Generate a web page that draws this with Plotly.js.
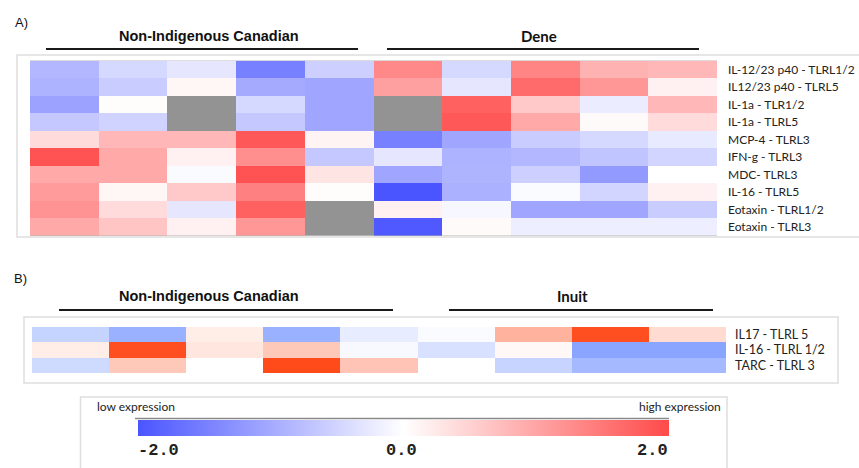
<!DOCTYPE html>
<html>
<head>
<meta charset="utf-8">
<script src="https://cdn.plot.ly/plotly-3.0.1.min.js"></script>
<style>html,body{margin:0;padding:0;background:#fff;}#chart{width:859px;height:468px;}</style>
</head>
<body>
<div id="chart"></div>
<script>
// ---------- data ----------
const aCols = ["NIC 1", "NIC 2", "NIC 3", "NIC 4", "NIC 5", "Dene 1", "Dene 2", "Dene 3", "Dene 4", "Dene 5"];
const aRows = ["IL-12/23 p40 - TLRL1/2", "IL12/23 p40 - TLRL5", "IL-1a - TLR1/2", "IL-1a - TLRL5", "MCP-4 - TLRL3",
               "IFN-g - TLRL3", "MDC- TLRL3", "IL-16 - TLRL5", "Eotaxin - TLRL1/2", "Eotaxin - TLRL3"];
const aValues = [
  [-0.85, -0.45, -0.28, -1.50, -0.55,  1.30, -0.45,  1.35,  0.85,  0.80],
  [-0.90, -0.60,  0.10, -1.00, -1.05,  1.05, -0.28,  1.65,  1.15,  0.15],
  [-1.10,  0.03,  null, -0.45, -1.05,  null,  1.75,  0.60, -0.22,  0.80],
  [-0.65, -0.52,  null, -0.65, -1.05,  null,  1.85,  0.95,  0.05,  0.40],
  [ 0.40,  0.80,  0.80,  1.85,  0.12, -1.50, -1.05, -0.60, -0.45, -0.25],
  [ 1.90,  0.95,  0.15,  1.25, -0.65, -0.28, -0.90, -0.85, -0.70, -0.50],
  [ 0.95,  0.95, -0.05,  1.90,  0.30, -1.05, -0.88, -0.55, -1.20,  0.00],
  [ 1.10,  0.10,  0.60,  1.40,  0.03, -2.00, -0.92, -0.05, -0.50,  0.15],
  [ 1.20,  0.40, -0.28,  1.75,  null,  0.15, -0.10, -1.05, -1.05, -0.60],
  [ 0.95,  0.65,  0.15,  1.15,  null, -1.95,  0.05, -0.20, -0.20, -0.20]
];
const bCols = ["NIC 1", "NIC 2", "NIC 3", "NIC 4", "NIC 5", "Inuit 1", "Inuit 2", "Inuit 3", "Inuit 4"];
const bRows = ["IL17 - TLRL 5", "IL-16 - TLRL 1/2", "TARC - TLRL 3"];
const bValues = [
  [-0.60, -1.05,  0.20, -1.05, -0.25, -0.05,  0.85,  1.95,  0.40],
  [ 0.20,  1.95,  0.27,  0.60, -0.08, -0.40,  0.08, -1.22, -1.22],
  [-0.50,  0.60,  0.00,  2.00,  0.65,  0.00, -0.58, -0.94, -0.94]
];
const groupsA = ["Non-Indigenous Canadian", "Dene"];
const groupsB = ["Non-Indigenous Canadian", "Inuit"];
const scaleMin = -2, scaleMax = 2;
const cbTickText = ["-2.0", "0.0", "2.0"];
const cbEndLabels = ["low expression", "high expression"];

// ---------- layout helpers ----------
const W = 859, H = 468;
const px = x => x / W;
const py = y => 1 - y / H;

const scaleA = [[0, '#4a55ff'], [0.5, '#ffffff'], [1, '#ff4a4a']];
const scaleB = [[0, '#3d6bff'], [0.5, '#ffffff'], [1, '#ff4a1a']];

const traces = [
  {
    type: 'heatmap', x: aCols, y: aRows, z: aValues,
    colorscale: scaleA, zmin: scaleMin, zmax: scaleMax,
    xaxis: 'x', yaxis: 'y', hoverongaps: false,
    showscale: true,
    colorbar: {
      orientation: 'h', thickness: 16, thicknessmode: 'pixels',
      len: 531, lenmode: 'pixels',
      x: px(403.5), xanchor: 'center', y: py(428), yanchor: 'middle',
      xpad: 0, ypad: 0, outlinewidth: 0, ticks: '', showticklabels: false
    }
  },
  {
    type: 'heatmap', x: bCols, y: bRows, z: bValues,
    colorscale: scaleB, zmin: scaleMin, zmax: scaleMax,
    xaxis: 'x2', yaxis: 'y2', showscale: false
  }
];

const axCommon = {showgrid: false, zeroline: false, showline: false, ticks: '', fixedrange: true};
const labelFontA = {family: 'Lato, "Open Sans", sans-serif', size: 12, color: '#222'};
const labelFontB = {family: 'Lato, "Open Sans", sans-serif', size: 12.5, color: '#222'};

const lineStyle = {color: '#1a1a1a', width: 2};
const boxStyle = {color: '#dedede', width: 1.5};
function hline(x0, x1, y, line) {
  return {type: 'line', xref: 'paper', yref: 'paper', x0: px(x0), x1: px(x1), y0: py(y), y1: py(y), line: line};
}
function rect(x0, x1, y0, y1) {
  return {type: 'rect', xref: 'paper', yref: 'paper', x0: px(x0), x1: px(x1), y0: py(y0), y1: py(y1), line: boxStyle, fillcolor: 'rgba(0,0,0,0)', layer: 'below'};
}
function note(text, x, y, xanchor, font) {
  return {text: text, xref: 'paper', yref: 'paper', x: px(x), y: py(y), xanchor: xanchor, yanchor: 'middle', showarrow: false, font: font};
}
const hdrFont = {family: '"Liberation Sans", Arial, sans-serif', size: 14.5, color: '#111', weight: 'bold'};
const hdrFont2 = {family: 'Lato, sans-serif', size: 15, color: '#111', weight: 'bold'};
const panelFont = {family: '"Liberation Sans", Arial, sans-serif', size: 13, color: '#111'};
const smallFont = {family: 'Lato, sans-serif', size: 12, color: '#222'};
const monoFont = {family: '"Liberation Mono", "DejaVu Sans Mono", monospace', size: 17, color: '#222', weight: 'bold'};

const layout = {
  width: W, height: H,
  margin: {l: 0, r: 0, t: 0, b: 0, pad: 0},
  paper_bgcolor: '#ffffff', plot_bgcolor: '#939393',
  showlegend: false,
  xaxis: Object.assign({}, axCommon, {domain: [px(30), px(717)], showticklabels: false, anchor: 'y'}),
  yaxis: Object.assign({}, axCommon, {domain: [py(235.7), py(60.7)], side: 'right', anchor: 'x',
    autorange: 'reversed', ticklabelstandoff: 10, tickfont: labelFontA}),
  xaxis2: Object.assign({}, axCommon, {domain: [px(32), px(726)], showticklabels: false, anchor: 'y2'}),
  yaxis2: Object.assign({}, axCommon, {domain: [py(373), py(327)], side: 'right', anchor: 'x2',
    autorange: 'reversed', ticklabelstandoff: 8, tickfont: labelFontB}),
  shapes: [
    rect(17, 864, 55, 237),
    rect(24, 838, 317, 383),
    rect(80.5, 727, 397, 474),
    hline(46, 358, 49, lineStyle),
    hline(387, 699, 49, lineStyle),
    hline(59, 393, 310, lineStyle),
    hline(449, 713, 310, lineStyle),
    hline(135, 669, 418.5, {color: '#8a8a8a', width: 1.5})
  ],
  annotations: [
    note('A)', 13, 22, 'left', panelFont),
    note('B)', 12, 278, 'left', panelFont),
    note(groupsA[0], 209, 36, 'center', hdrFont),
    note(groupsA[1], 539, 36, 'center', hdrFont2),
    note(groupsB[0], 209, 296, 'center', hdrFont),
    note(groupsB[1], 572, 296, 'center', hdrFont2),
    note(cbEndLabels[0], 95, 406, 'left', smallFont),
    note(cbEndLabels[1], 723, 406, 'right', smallFont),
    note(cbTickText[0], 136, 450, 'left', monoFont),
    note(cbTickText[1], 401.5, 450, 'center', monoFont),
    note(cbTickText[2], 670, 450, 'right', monoFont)
  ]
};

Plotly.newPlot('chart', traces, layout, {displayModeBar: false, staticPlot: true});
</script>
</body>
</html>
